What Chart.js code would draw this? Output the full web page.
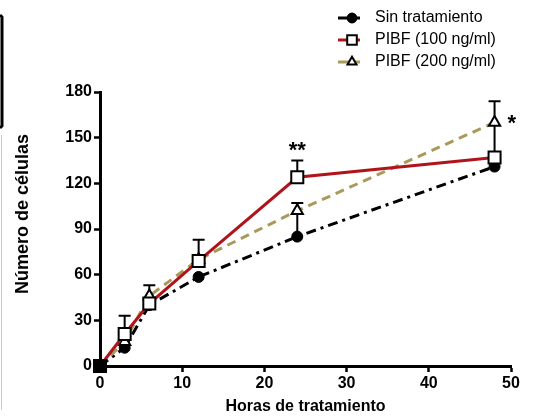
<!DOCTYPE html>
<html>
<head>
<meta charset="utf-8">
<script src="https://cdn.jsdelivr.net/npm/chart.js@4.4.1/dist/chart.umd.min.js"></script>
<style>
html,body{margin:0;padding:0;background:#fff;}
#wrap{width:535px;height:418px;position:relative;}
</style>
</head>
<body>
<div id="wrap"><canvas id="c" width="535" height="418"></canvas></div>
<script>
// ---- data ----
const hours = [0, 3, 6, 12, 24, 48];
const sinTratamiento = [0, 12, 40, 58.5, 85, 131];
const pibf100 = [0, 21, 41, 69, 124, 137];
const pibf200 = [0, 16, 46, 70, 102, 160];
const errSin = [0, 0, 0, 0, 22, 0];
const err100 = [0, 12, 0, 14, 11, 37];
const err200 = [0, 0, 7, 0, 0, 0];
const seriesNames = ['Sin tratamiento', 'PIBF (100 ng/ml)', 'PIBF (200 ng/ml)'];
const yTitle = 'Número de células';
const xTitle = 'Horas de tratamiento';
const yTicks = [0, 30, 60, 90, 120, 150, 180];
const xTicks = [0, 10, 20, 30, 40, 50];
const stars = [{x: 24, y: 141, text: '**'}, {x: 48, y: 159, text: '*'}];

const FONT = "'Liberation Sans', Arial, sans-serif";
const toXY = (ys) => hours.map((h, i) => ({x: h, y: ys[i]}));

const errorBars = {
  id: 'errorBars',
  beforeDatasetsDraw(chart) {
    const ctx = chart.ctx;
    const xs = chart.scales.x, ys = chart.scales.y;
    const errs = [errSin, err100, err200];
    const vals = [sinTratamiento, pibf100, pibf200];
    ctx.save();
    ctx.strokeStyle = '#000';
    ctx.lineWidth = 2;
    errs.forEach((e, d) => {
      e.forEach((v, i) => {
        if (!v) return;
        const px = xs.getPixelForValue(hours[i]);
        const p0 = ys.getPixelForValue(vals[d][i]);
        const p1 = ys.getPixelForValue(vals[d][i] + v);
        ctx.beginPath();
        ctx.moveTo(px, p0); ctx.lineTo(px, p1);
        ctx.moveTo(px - 6, p1); ctx.lineTo(px + 6, p1);
        ctx.stroke();
      });
    });
    ctx.restore();
  }
};

const extras = {
  id: 'extras',
  afterDraw(chart) {
    const ctx = chart.ctx;
    const xs = chart.scales.x, ys = chart.scales.y;
    ctx.save();
    // y axis title
    ctx.save();
    ctx.translate(23, 214);
    ctx.rotate(-Math.PI / 2);
    ctx.fillStyle = '#000';
    ctx.font = 'bold 18px ' + FONT;
    ctx.textAlign = 'center';
    ctx.textBaseline = 'middle';
    ctx.fillText(yTitle, 0, 0);
    ctx.restore();
    // significance stars
    ctx.fillStyle = '#000';
    ctx.font = 'bold 22px ' + FONT;
    ctx.textBaseline = 'middle';
    stars.forEach(s => {
      let px = xs.getPixelForValue(s.x), py = ys.getPixelForValue(s.y);
      if (s.text === '*') { ctx.textAlign = 'left'; px += 13; }
      else { ctx.textAlign = 'center'; }
      ctx.fillText(s.text, px, py);
    });
    // legend
    const rows = [18, 40, 62];
    seriesNames.forEach((name, i) => {
      const ds = chart.data.datasets.find(d => d.label === name);
      const y = rows[i];
      ctx.save();
      ctx.strokeStyle = ds.borderColor;
      ctx.lineWidth = 3;
      ctx.beginPath(); ctx.moveTo(338, y); ctx.lineTo(360, y); ctx.stroke();
      ctx.restore();
      ctx.save();
      ctx.fillStyle = i === 0 ? '#000' : '#fff';
      ctx.strokeStyle = '#000';
      ctx.lineWidth = 2;
      Chart.helpers.drawPoint(ctx, {pointStyle: ds.pointStyle, radius: ds.pointRadius * 0.8, borderWidth: 2, rotation: 0}, 352, y);
      ctx.restore();
      ctx.fillStyle = '#000';
      ctx.font = '16px ' + FONT;
      ctx.textAlign = 'left';
      ctx.textBaseline = 'middle';
      ctx.fillText(name, 375, y);
    });
    // cropped frame artifact at left edge
    ctx.strokeStyle = '#000';
    ctx.lineWidth = 3;
    ctx.beginPath();
    ctx.moveTo(0, 15); ctx.lineTo(2, 17); ctx.lineTo(2, 126); ctx.lineTo(0, 128);
    ctx.stroke();
    ctx.strokeStyle = '#ccc';
    ctx.lineWidth = 1;
    ctx.beginPath(); ctx.moveTo(1.5, 135); ctx.lineTo(1.5, 410); ctx.stroke();
    ctx.restore();
  }
};

const bg = (c) => (ctx) => ctx.dataIndex === 0 ? '#000' : c;

new Chart(document.getElementById('c'), {
  type: 'line',
  data: {
    datasets: [
      {
        label: seriesNames[1], data: toXY(pibf100), order: 1, clip: false,
        borderColor: '#b0141b', borderWidth: 3,
        pointStyle: 'rect', pointRadius: 8.5, pointBorderWidth: 2,
        pointBorderColor: '#000', pointBackgroundColor: bg('#fff')
      },
      {
        label: seriesNames[2], data: toXY(pibf200), order: 2, clip: false,
        borderColor: '#a99a5c', borderWidth: 3, borderDash: [9, 6],
        pointStyle: 'triangle', pointRadius: 6.5, pointBorderWidth: 2,
        pointBorderColor: '#000', pointBackgroundColor: bg('#fff')
      },
      {
        label: seriesNames[0], data: toXY(sinTratamiento), order: 3, clip: false,
        borderColor: '#000', borderWidth: 3, borderDash: [10, 5, 3, 5],
        pointStyle: 'circle', pointRadius: 5.5, pointBorderWidth: 1,
        pointBorderColor: '#000', pointBackgroundColor: '#000'
      }
    ]
  },
  options: {
    responsive: false,
    animation: false,
    layout: {padding: {left: 0, right: 24, top: 92, bottom: 0}},
    plugins: {legend: {display: false}, tooltip: {enabled: false}},
    scales: {
      x: {
        type: 'linear', min: 0, max: 50,
        afterFit: (s) => { s.height = 52; },
        afterBuildTicks: (s) => { s.ticks = xTicks.map(v => ({value: v})); },
        grid: {drawOnChartArea: false, drawTicks: true, tickLength: 6, tickWidth: 2.5, tickColor: '#000'},
        border: {display: true, color: '#000', width: 3},
        ticks: {color: '#000', font: {family: FONT, size: 16, weight: 'bold'}, padding: 2, maxRotation: 0},
        title: {display: true, text: xTitle, color: '#000', font: {family: FONT, size: 16, weight: 'bold'}, padding: {top: 0, bottom: 2}}
      },
      y: {
        type: 'linear', min: 0, max: 180,
        afterFit: (s) => { s.width = 100; },
        afterBuildTicks: (s) => { s.ticks = yTicks.map(v => ({value: v})); },
        grid: {drawOnChartArea: false, drawTicks: true, tickLength: 6, tickWidth: 2.5, tickColor: '#000'},
        border: {display: true, color: '#000', width: 3},
        ticks: {color: '#000', font: {family: FONT, size: 16, weight: 'bold'}, padding: 2},
        title: {display: false}
      }
    }
  },
  plugins: [errorBars, extras]
});
</script>
</body>
</html>
